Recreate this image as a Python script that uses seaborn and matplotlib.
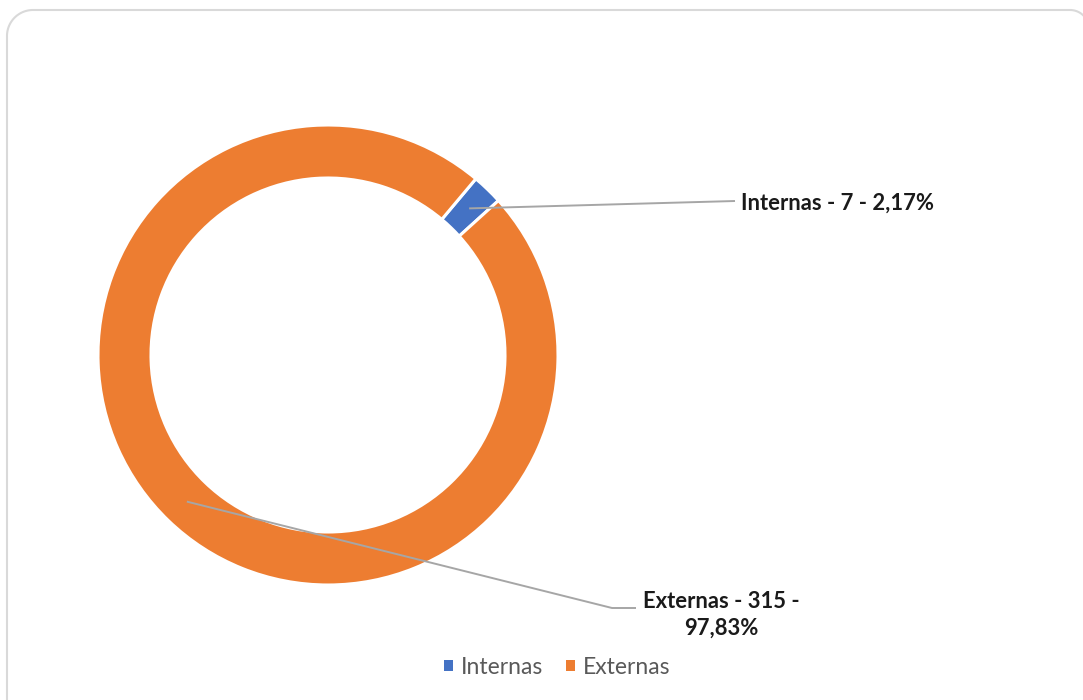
import numpy as np
import matplotlib
matplotlib.use("Agg")
import matplotlib.pyplot as plt
from matplotlib.patches import Rectangle
import seaborn as sns

# Data
categories = ["Internas", "Externas"]
counts = [7, 315]
colors = ["#4472C4", "#ED7D31"]

sns.set_theme(style="white")
plt.rcParams["font.family"] = ["Lato", "DejaVu Sans"]

W, H = 1083, 700
fig = plt.figure(figsize=(W / 100, H / 100), dpi=100)
ax = fig.add_axes([0, 0, 1, 1])

# Donut geometry in pixel units (y measured upward)
cx, cy = 328, H - 355
R, ring = 230, 53
first_angle = 40  # degrees clockwise from 12 o'clock

wedges, _ = ax.pie(
    counts, colors=colors, startangle=90 - first_angle, counterclock=False,
    radius=R, center=(cx, cy),
    wedgeprops=dict(width=ring, edgecolor="white", linewidth=2.2),
)
# Axes spans the whole figure, so one data unit equals one pixel on both axes
ax.set_aspect("auto")
ax.set_xlim(0, W)
ax.set_ylim(0, H)
ax.axis("off")

# Rounded chart-area border: left edge with rounded top-left corner,
# top edge, and the start of the top-right corner at the figure edge
top = H - 10
t = np.linspace(0, np.pi / 2, 40)
lx, lr = 7, 26
rx, rr = 1089, 19
bx = np.concatenate([[lx], lx + lr - lr * np.cos(t), rx - rr + rr * np.sin(t)])
by = np.concatenate([[-20], top - lr + lr * np.sin(t), top - rr + rr * np.cos(t)])
ax.plot(bx, by, color="#D9D9D9", linewidth=1.5, solid_joinstyle="round")

total = sum(counts)
r_mid = R - ring / 2


def anchor(w):
    a = np.deg2rad((w.theta1 + w.theta2) / 2)
    return cx + r_mid * np.cos(a), cy + r_mid * np.sin(a)


def label(cat, n):
    pct = f"{n / total * 100:.2f}".replace(".", ",")
    return cat, n, pct


line_kw = dict(color="#A6A6A6", linewidth=1.4, solid_capstyle="butt")
text_kw = dict(fontsize=15.8, fontweight="bold", color="#1a1a1a")

# Internas label
ax0, ay0 = anchor(wedges[0])
ax.plot([ax0, 735], [ay0, H - 201], **line_kw)
c, n, p = label(categories[0], counts[0])
ax.text(741, H - 203, f"{c} - {n} - {p}%", ha="left", va="center", **text_kw)

# Externas label
ax1, ay1 = anchor(wedges[1])
ax.plot([ax1, 612, 636], [ay1, H - 608, H - 608], **line_kw)
c, n, p = label(categories[1], counts[1])
ax.text(721, H - 615, f"{c} - {n} -\n{p}%", ha="center", va="center",
        linespacing=1.35, **text_kw)

# Legend
handles = [Rectangle((0, 0), 1, 1, facecolor=col, edgecolor="none") for col in colors]
fig.legend(handles, categories, loc="center", bbox_to_anchor=(557 / W, 1 - 667 / H),
           ncol=2, frameon=False, fontsize=16.5, labelcolor="#595959",
           handlelength=0.38, handleheight=0.38, handletextpad=0.35, columnspacing=1.0)

fig.savefig("out.png", dpi=100, facecolor="white")
